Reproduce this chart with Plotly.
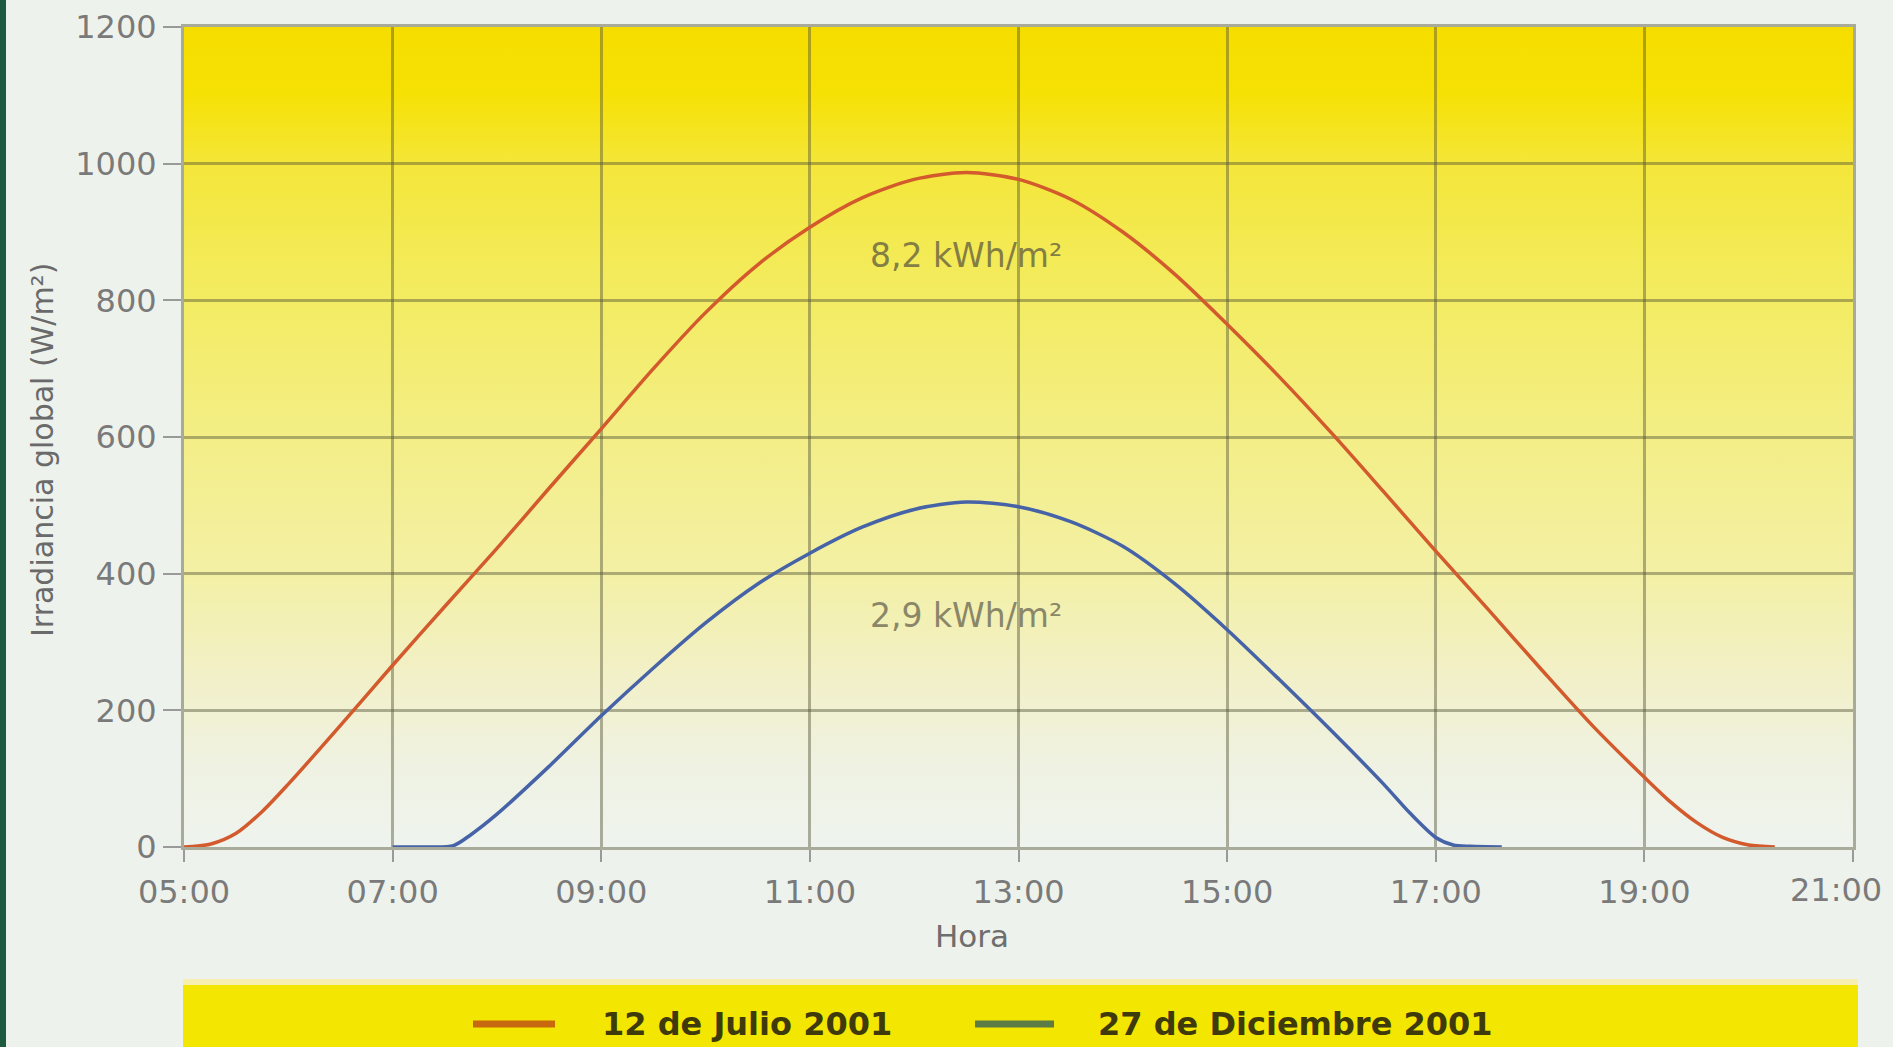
import base64
import plotly.graph_objects as go

# --- data -----------------------------------------------------------------
july_label = "12 de Julio 2001"
july_times = ["05:00", "05:15", "05:30", "05:45", "06:00", "06:30", "07:00", "07:30",
              "08:00", "08:30", "09:00", "09:30", "10:00", "10:30", "11:00", "11:30",
              "12:00", "12:30", "13:00", "13:30", "14:00", "14:30", "15:00", "15:30",
              "16:00", "16:30", "17:00", "17:30", "18:00", "18:30", "19:00", "19:15",
              "19:30", "19:45", "20:00", "20:15"]
july_irr = [0, 4, 20, 52, 92, 178, 266, 352,
            437, 525, 612, 700, 782, 852, 907, 950,
            977, 987, 977, 948, 900, 838, 765, 688,
            606, 520, 433, 348, 262, 178, 102, 66,
            36, 14, 3, 0]

dec_label = "27 de Diciembre 2001"
dec_times = ["07:00", "07:20", "07:35", "07:45", "08:00", "08:30", "09:00", "09:30",
             "10:00", "10:30", "11:00", "11:30", "12:00", "12:30", "13:00", "13:30",
             "14:00", "14:30", "15:00", "15:30", "16:00", "16:30", "16:45", "17:00",
             "17:10", "17:20", "17:38"]
dec_irr = [0, 0, 2, 18, 48, 118, 192, 262,
           328, 385, 430, 468, 494, 505, 498, 476,
           440, 385, 318, 245, 170, 92, 50, 14,
           3, 1, 0]

daily_totals = ["8,2 kWh/m²", "2,9 kWh/m²"]
total_pos = [("12:30", 865), ("12:30", 339)]

x_ticks = ["05:00", "07:00", "09:00", "11:00", "13:00", "15:00", "17:00", "19:00", "21:00"]
y_ticks = [0, 200, 400, 600, 800, 1000, 1200]


def to_hours(t):
    h, m = t.split(":")
    return int(h) + int(m) / 60.0


# --- geometry helpers -------------------------------------------------------
W, H = 1893, 1047
L, R, T, B = 184, 40, 27, 200
PW, PH = W - L - R, H - T - B


def px(xp):
    return (xp - L) / PW


def py(yp):
    return (H - B - yp) / PH


FONT = "DejaVu Sans, Open Sans, sans-serif"
GRID = "rgba(85,85,55,0.45)"
TICK_FONT = dict(family=FONT, size=32, color="#7a7a7a")

# vertical gradient for the plotting area
stops = [(0.00, "#f6dd00"), (0.08, "#f6e104"), (0.17, "#f4e63a"), (0.33, "#f3ec62"),
         (0.50, "#f3ee86"), (0.67, "#f3f0a6"), (0.80, "#f2f0ca"), (0.90, "#eff2e2"),
         (1.00, "#eef3ee")]
stop_xml = "".join(f'<stop offset="{o}" stop-color="{c}"/>' for o, c in stops)
svg = ('<svg xmlns="http://www.w3.org/2000/svg" width="100" height="100" '
       'viewBox="0 0 100 100" preserveAspectRatio="none"><defs>'
       f'<linearGradient id="g" x1="0" y1="0" x2="0" y2="1">{stop_xml}</linearGradient>'
       '</defs><rect x="0" y="0" width="100" height="100" fill="url(#g)"/></svg>')
svg_uri = "data:image/svg+xml;base64," + base64.b64encode(svg.encode()).decode()

fig = go.Figure()

fig.add_trace(go.Scatter(
    x=[to_hours(t) for t in july_times], y=july_irr, name=july_label,
    mode="lines", line=dict(color="#d25a2c", width=3.5, shape="spline", smoothing=0.8),
    showlegend=False,
))
fig.add_trace(go.Scatter(
    x=[to_hours(t) for t in dec_times], y=dec_irr, name=dec_label,
    mode="lines", line=dict(color="#4763a8", width=3.5, shape="spline", smoothing=0.8),
    showlegend=False,
))

shapes = [
    # dark edge strip on the left of the page
    dict(type="rect", xref="paper", yref="paper", x0=px(0), x1=px(6), y0=py(H), y1=py(0),
         fillcolor="#1e5a3e", line=dict(width=0), layer="below"),
    # legend band
    dict(type="rect", xref="paper", yref="paper", x0=px(183), x1=px(1858), y0=py(H + 2),
         y1=py(985), fillcolor="#f3e600", line=dict(width=0), layer="below"),
    dict(type="rect", xref="paper", yref="paper", x0=px(183), x1=px(1858), y0=py(985),
         y1=py(979), fillcolor="#f6efb0", line=dict(width=0), layer="below"),
    # legend keys
    dict(type="line", xref="paper", yref="paper", x0=px(473), x1=px(555), y0=py(1024),
         y1=py(1024), line=dict(color="#c8680f", width=7)),
    dict(type="line", xref="paper", yref="paper", x0=px(975), x1=px(1054), y0=py(1024),
         y1=py(1024), line=dict(color="#5d7b44", width=7)),
]

annotations = [
    dict(text=july_label, xref="paper", yref="paper", x=px(600), y=py(1024),
         xanchor="left", yanchor="middle", showarrow=False,
         font=dict(family=FONT, size=32, color="#3f3a0c", weight="bold")),
    dict(text=dec_label, xref="paper", yref="paper", x=px(1096), y=py(1024),
         xanchor="left", yanchor="middle", showarrow=False,
         font=dict(family=FONT, size=32, color="#3f3a0c", weight="bold")),
    # axis titles
    dict(text="Hora", xref="paper", yref="paper", x=px(972), y=py(936),
         xanchor="center", yanchor="middle", showarrow=False,
         font=dict(family=FONT, size=31, color="#6e6e6e")),
    dict(text="Irradiancia global (W/m²)", xref="paper", yref="paper", x=px(42), y=py(450),
         xanchor="center", yanchor="middle", showarrow=False, textangle=-90,
         font=dict(family=FONT, size=30, color="#6a6a6a")),
    # last hour label, nudged inward so it stays on the page
    dict(text=x_ticks[-1], xref="paper", yref="paper", x=px(1884), y=py(890),
         xanchor="right", yanchor="middle", showarrow=False, font=TICK_FONT),
]
for txt, (t, v), col in zip(daily_totals, total_pos, ["#847e44", "#8a8768"]):
    annotations.append(dict(text=txt, x=to_hours(t), y=v, xref="x", yref="y",
                            showarrow=False, xanchor="center", yanchor="middle",
                            font=dict(family=FONT, size=33, color=col)))

fig.update_layout(
    width=W, height=H, autosize=False,
    margin=dict(l=L, r=R, t=T, b=B, pad=0, autoexpand=False),
    paper_bgcolor="#eef2ec",
    plot_bgcolor="rgba(0,0,0,0)",
    images=[dict(source=svg_uri, xref="paper", yref="paper", x=0, y=1, sizex=1, sizey=1,
                 xanchor="left", yanchor="top", sizing="stretch", layer="below")],
    shapes=shapes,
    annotations=annotations,
    showlegend=False,
    xaxis=dict(
        range=[5, 21], tickvals=[to_hours(t) for t in x_ticks],
        ticktext=x_ticks[:-1] + [""],
        showgrid=True, gridcolor=GRID, gridwidth=3,
        showline=True, linecolor=GRID, linewidth=3, mirror=True,
        ticks="outside", ticklen=12, tickwidth=2, tickcolor="#9a9a9a",
        ticklabelstandoff=3, automargin=False,
        tickfont=TICK_FONT,
        zeroline=False, fixedrange=True,
    ),
    yaxis=dict(
        range=[0, 1200], tickvals=y_ticks, automargin=False,
        showgrid=True, gridcolor=GRID, gridwidth=3,
        showline=True, linecolor=GRID, linewidth=3, mirror=True,
        ticks="outside", ticklen=18, tickwidth=2, tickcolor="#9a9a9a",
        tickfont=TICK_FONT,
        zeroline=False, fixedrange=True,
    ),
)

fig.write_html("out.html", config={"displayModeBar": False})
